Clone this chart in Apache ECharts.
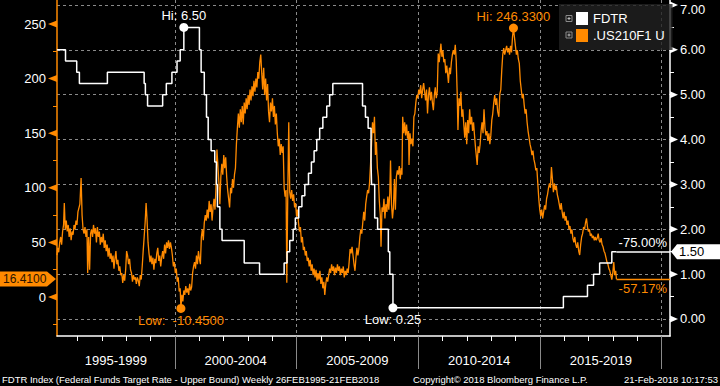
<!DOCTYPE html>
<html><head><meta charset="utf-8">
<script src="https://cdn.jsdelivr.net/npm/echarts@6/dist/echarts.min.js"></script>
<style>html,body{margin:0;padding:0;background:#000;}#c{width:720px;height:386px;}</style>
</head><body><div id="c"></div>
<script>
// ---------- axes / labels ----------
const X_MIN = 1995.16, X_MAX = 2020.34;
const periodLabels = ['1995-1999', '2000-2004', '2005-2009', '2010-2014', '2015-2019'];
const periodCenters = [1997.58, 2002.5, 2007.5, 2012.5, 2017.5];
const periodBounds = [2000, 2005, 2010, 2015, 2020];
const yearTicks = [1996,1997,1998,1999,2001,2002,2003,2004,2006,2007,2008,2009,2011,2012,2013,2014,2016,2017,2018,2019];
const leftTicks = [0, 50, 100, 150, 200, 250];
const leftMinorTicks = [-25, 0, 25, 50, 75, 100, 125, 150, 175, 200, 225, 250];
const rightTicks = [0, 1, 2, 3, 4, 5, 6, 7];
const rightMinorTicks = [0.5, 1.5, 2.5, 3.5, 4.5, 5.5, 6.5];
const LEFT_MIN = -35.7, LEFT_MAX = 272;
const RIGHT_MIN = -0.379, RIGHT_MAX = 7.111;

// ---------- FDTR (Fed funds target upper bound), [year, %] at change dates ----------
const fdtrSteps = [
 [1995.16,6.00],[1995.51,5.75],[1995.97,5.50],[1996.08,5.25],[1997.23,5.50],[1998.74,5.25],[1998.79,5.00],
 [1998.88,4.75],[1999.50,5.00],[1999.65,5.25],[1999.88,5.50],[2000.09,5.75],[2000.22,6.00],[2000.37,6.50],
 [2001.01,6.00],[2001.08,5.50],[2001.21,5.00],[2001.30,4.50],[2001.37,4.00],[2001.49,3.75],[2001.64,3.50],
 [2001.71,3.00],[2001.75,2.50],[2001.85,2.00],[2001.94,1.75],[2002.85,1.25],[2003.48,1.00],[2004.49,1.25],
 [2004.61,1.50],[2004.72,1.75],[2004.86,2.00],[2004.95,2.25],[2005.09,2.50],[2005.22,2.75],[2005.34,3.00],
 [2005.49,3.25],[2005.61,3.50],[2005.72,3.75],[2005.83,4.00],[2005.95,4.25],[2006.08,4.50],[2006.24,4.75],
 [2006.36,5.00],[2006.49,5.25],[2007.71,4.75],[2007.83,4.50],[2007.94,4.25],[2008.06,3.50],[2008.08,3.00],
 [2008.21,2.25],[2008.33,2.00],[2008.77,1.50],[2008.83,1.00],[2008.96,0.25],[2015.96,0.50],[2016.95,0.75],
 [2017.20,1.00],[2017.45,1.25],[2017.95,1.50],[2018.14,1.50]
];

// ---------- .US210F1 U spread (bp), [year, value] ----------
const spread1995 = [
 [1995.16,38.31],[1995.19,45],[1995.23,41],[1995.27,50],[1995.31,55],[1995.35,48],[1995.39,60],[1995.43,66],[1995.46,86],
 [1995.50,62],[1995.54,70],[1995.58,60],[1995.62,66],[1995.66,55],[1995.70,63],[1995.74,52],[1995.78,60],[1995.82,57],
 [1995.86,66],[1995.90,62],[1995.94,70],[1995.98,66],[1996.02,78],[1996.10,85],[1996.15,109],[1996.19,75],[1996.23,62],
 [1996.27,58],[1996.31,64],[1996.35,55],[1996.39,62],[1996.42,22],[1996.46,55],[1996.50,25],[1996.54,58],[1996.58,62],
 [1996.62,55],[1996.66,66],[1996.70,58],[1996.74,63],[1996.78,50],[1996.82,64],[1996.86,55],[1996.90,60],[1996.94,48],
 [1996.98,55],[1997.02,50],[1997.06,58],[1997.10,45],[1997.14,52],[1997.18,42],[1997.22,48],[1997.26,37],[1997.30,45],
 [1997.34,35],[1997.38,40],[1997.42,32],[1997.46,38],[1997.50,26],[1997.54,35],[1997.58,42],[1997.62,30],[1997.66,34],
 [1997.70,24],[1997.74,28],[1997.78,20],[1997.82,22],[1997.86,13],[1997.90,20],[1997.94,15],[1997.98,25],[1998.02,42],
 [1998.06,38],[1998.10,30],[1998.14,35],[1998.18,25],[1998.22,22],[1998.26,14],[1998.30,20],[1998.34,16],[1998.38,18],
 [1998.42,12],[1998.46,18],[1998.50,15],[1998.54,10],[1998.58,20],[1998.62,16],[1998.66,28],[1998.70,42],[1998.74,55],
 [1998.78,68],[1998.82,86],[1998.86,70],[1998.90,50],[1998.94,40],[1998.98,32],[1999.02,38],[1999.06,30],[1999.10,36],
 [1999.14,25],[1999.18,35],[1999.22,31],[1999.26,40],[1999.30,45],[1999.34,33],[1999.38,38],[1999.42,28],[1999.46,36],
 [1999.50,42],[1999.54,35],[1999.58,48],[1999.62,40],[1999.66,50],[1999.70,45],[1999.74,52],[1999.78,44]
];
const spread2000 = [
 [1999.82,50],[1999.86,45],[1999.90,38],[1999.94,28],[1999.98,32],[2000.02,22],[2000.06,26],[2000.10,14],[2000.14,18],
 [2000.18,5],[2000.22,8],[2000.25,-10.45],[2000.29,2],[2000.33,-4],[2000.37,6],[2000.41,2],[2000.45,10],[2000.49,4],
 [2000.53,8],[2000.57,2],[2000.61,12],[2000.65,6],[2000.69,9],[2000.73,22],[2000.77,28],[2000.81,32],[2000.85,26],
 [2000.89,38],[2000.93,30],[2000.97,42],[2001.01,35],[2001.05,30],[2001.09,55],[2001.13,62],[2001.17,52],[2001.21,68],
 [2001.25,75],[2001.29,70],[2001.33,80],[2001.37,72],[2001.41,88],[2001.45,78],[2001.49,85],[2001.53,70],[2001.57,82],
 [2001.61,90],[2001.65,80],[2001.69,100],[2001.73,135],[2001.77,120],[2001.81,105],[2001.85,85],[2001.89,110],
 [2001.93,122],[2001.97,112],[2002.01,130],[2002.05,118],[2002.09,128],[2002.13,110],[2002.17,98],[2002.21,90],
 [2002.25,82],[2002.29,100],[2002.33,95],[2002.37,108],[2002.41,100],[2002.45,112],[2002.49,118],[2002.53,140],
 [2002.57,155],[2002.61,168],[2002.65,155],[2002.69,172],[2002.73,160],[2002.77,175],[2002.81,158],[2002.85,178],
 [2002.89,168],[2002.93,182],[2002.97,172],[2003.01,185],[2003.05,176],[2003.09,190],[2003.13,180],[2003.17,193],
 [2003.21,184],[2003.25,198],[2003.29,188],[2003.33,200],[2003.37,192],[2003.41,206],[2003.45,200],[2003.49,215],
 [2003.53,222],[2003.57,205],[2003.61,190],[2003.65,210],[2003.69,185],[2003.73,200],[2003.77,180],[2003.81,195],
 [2003.85,170],[2003.89,160],[2003.93,178],[2003.97,170],[2004.01,182],[2004.05,165],[2004.09,175],[2004.13,158],
 [2004.17,168],[2004.21,150],[2004.25,138],[2004.29,145],[2004.33,130],[2004.37,140],[2004.41,132]
];
const spread2005 = [
 [2004.45,138],[2004.49,100],[2004.53,92],[2004.57,98],[2004.60,13],[2004.64,95],[2004.68,160],[2004.72,96],[2004.76,90],
 [2004.80,98],[2004.84,88],[2004.88,94],[2004.92,82],[2004.96,86],[2005.00,74],[2005.04,80],[2005.08,68],[2005.12,60],
 [2005.16,64],[2005.20,50],[2005.24,55],[2005.28,43],[2005.32,46],[2005.36,38],[2005.40,42],[2005.44,33],[2005.48,36],
 [2005.52,28],[2005.56,34],[2005.60,24],[2005.64,30],[2005.68,20],[2005.72,26],[2005.76,18],[2005.80,25],[2005.84,15],
 [2005.88,22],[2005.92,16],[2005.96,24],[2006.00,12],[2006.04,18],[2006.08,8],[2006.12,14],[2006.16,2],[2006.20,12],
 [2006.24,18],[2006.28,14],[2006.32,20],[2006.36,26],[2006.40,22],[2006.44,30],[2006.48,24],[2006.52,28],[2006.56,20],
 [2006.60,27],[2006.64,22],[2006.68,30],[2006.72,24],[2006.76,28],[2006.80,20],[2006.84,26],[2006.88,22],[2006.92,28],
 [2006.96,18],[2007.00,24],[2007.04,20],[2007.08,26],[2007.12,22],[2007.16,32],[2007.20,44],[2007.24,40],[2007.28,46],
 [2007.32,38],[2007.36,30],[2007.40,24],[2007.44,36],[2007.48,45],[2007.52,38],[2007.56,44],[2007.60,55],[2007.64,62],
 [2007.68,58],[2007.72,68],[2007.76,78],[2007.80,70],[2007.84,85],[2007.88,92],[2007.92,98],[2007.96,95],[2008.00,105],
 [2008.04,122],[2008.08,140],[2008.12,160],[2008.16,150],[2008.20,165],[2008.24,130],[2008.28,142],[2008.32,118],
 [2008.36,110],[2008.40,88],[2008.44,75],[2008.47,46],[2008.51,82],[2008.55,78],[2008.59,90],[2008.63,72],[2008.67,85],
 [2008.71,78],[2008.75,92],[2008.79,80],[2008.83,95],[2008.86,125],[2008.90,85],[2008.94,72],[2008.98,82],[2009.02,108],
 [2009.06,80],[2009.10,110]
];
const spread2010 = [
 [2009.14,116],[2009.18,112],[2009.22,120],[2009.26,108],[2009.30,118],[2009.33,112],[2009.36,165],[2009.40,150],
 [2009.44,160],[2009.48,148],[2009.52,158],[2009.56,145],[2009.60,152],[2009.62,121],[2009.66,150],[2009.70,140],
 [2009.74,145],[2009.78,138],[2009.82,165],[2009.86,168],[2009.90,178],[2009.94,185],[2009.98,182],[2010.02,190],
 [2010.06,186],[2010.10,194],[2010.14,182],[2010.18,190],[2010.22,196],[2010.26,188],[2010.30,180],[2010.34,190],
 [2010.38,168],[2010.42,185],[2010.46,192],[2010.50,180],[2010.54,188],[2010.58,178],[2010.62,171],[2010.66,185],
 [2010.70,192],[2010.74,182],[2010.78,188],[2010.82,223],[2010.86,215],[2010.90,225],[2010.93,232],[2010.97,220],
 [2011.01,226],[2011.05,215],[2011.09,218],[2011.13,205],[2011.17,212],[2011.21,203],[2011.24,196],[2011.28,210],
 [2011.32,204],[2011.36,215],[2011.40,222],[2011.44,226],[2011.48,222],[2011.52,231],[2011.56,216],[2011.60,185],
 [2011.63,153],[2011.67,182],[2011.71,175],[2011.75,188],[2011.79,165],[2011.83,172],[2011.87,158],[2011.91,146],
 [2011.95,160],[2011.99,140],[2012.03,162],[2012.07,150],[2012.11,172],[2012.15,158],[2012.19,165],[2012.23,152],
 [2012.27,160],[2012.31,148],[2012.35,137],[2012.39,128],[2012.42,121],[2012.46,138],[2012.50,132],[2012.54,140],
 [2012.58,152],[2012.62,160],[2012.66,150],[2012.70,172],[2012.74,155],[2012.78,148],[2012.82,152],[2012.86,143],
 [2012.90,150],[2012.94,140],[2012.98,148],[2013.02,162],[2013.06,168],[2013.10,178],[2013.14,185],[2013.18,176],
 [2013.22,182],[2013.26,170],[2013.31,165],[2013.35,186],[2013.39,190],[2013.43,208],[2013.47,222],[2013.51,228],
 [2013.55,222],[2013.59,226],[2013.63,230],[2013.67,224],[2013.71,228],[2013.75,222]
];
const spread2015 = [
 [2013.79,230],[2013.83,224],[2013.87,238],[2013.91,246.33],[2013.95,238],[2013.99,230],[2014.03,222],[2014.07,226],
 [2014.11,218],[2014.15,214],[2014.19,198],[2014.23,190],[2014.27,182],[2014.31,186],[2014.35,176],[2014.39,168],
 [2014.43,172],[2014.47,160],[2014.51,152],[2014.55,146],[2014.59,140],[2014.63,136],[2014.67,130],[2014.71,134],
 [2014.75,126],[2014.79,122],[2014.83,116],[2014.87,118],[2014.91,104],[2014.95,90],[2014.99,80],[2015.03,74],
 [2015.07,80],[2015.11,72],[2015.15,78],[2015.19,84],[2015.23,80],[2015.27,90],[2015.31,94],[2015.35,100],[2015.39,104],
 [2015.43,100],[2015.47,119],[2015.51,108],[2015.55,96],[2015.59,104],[2015.63,98],[2015.67,102],[2015.71,94],
 [2015.75,90],[2015.79,85],[2015.83,80],[2015.87,86],[2015.91,78],[2015.95,72],[2015.99,78],[2016.03,70],[2016.07,74],
 [2016.11,66],[2016.15,70],[2016.19,62],[2016.23,65],[2016.27,58],[2016.31,62],[2016.35,54],[2016.39,50],[2016.43,55],
 [2016.47,48],[2016.51,45],[2016.55,50],[2016.59,42],[2016.63,38.5],[2016.67,48],[2016.71,55],[2016.75,58],[2016.79,64],
 [2016.83,62],[2016.87,68],[2016.91,72],[2016.95,64],[2016.99,60],[2017.03,62],[2017.07,56],[2017.11,58],[2017.15,54],
 [2017.19,56],[2017.23,52],[2017.27,55],[2017.31,52],[2017.35,54],[2017.39,58],[2017.43,52],[2017.47,50],[2017.51,54],
 [2017.55,48],[2017.59,46],[2017.63,42],[2017.67,40],[2017.71,36],[2017.75,32],[2017.79,30],[2017.83,26],[2017.87,24],
 [2017.91,20],[2017.95,16],[2017.99,22],[2018.03,32],[2018.07,20],[2018.11,24],[2018.14,16.41]
];
const spreadData = [].concat(spread1995, spread2000, spread2005, spread2010, spread2015);

const ORANGE = '#ff8a00', GRID = '#8a8a8a', FONT = '"Liberation Sans", Arial, sans-serif';
const fdtrFirst = fdtrSteps[0][1], fdtrLast = fdtrSteps[fdtrSteps.length - 1];
const sprFirst = spreadData[0][1], sprLast = spreadData[spreadData.length - 1];
const pct = (a, b) => ((b / a - 1) * 100).toFixed(2) + '%';
const gridRect = { left: 57, right: 50, top: 0, bottom: 50 };

// SVG renderer: everything is painted at once (no time-sliced canvas painting)
const chart = echarts.init(document.getElementById('c'), null, { renderer: 'svg' });
chart.setOption({
  animation: false,
  backgroundColor: '#000',
  textStyle: { fontFamily: FONT },
  grid: [Object.assign({}, gridRect), Object.assign({}, gridRect)],
  legend: {
    orient: 'vertical', left: 559, top: 4, itemWidth: 12, itemHeight: 13, itemGap: 4,
    padding: [8, 8, 8, 17], backgroundColor: 'rgba(34,34,34,0.8)',
    textStyle: { color: '#fff', fontSize: 13, fontFamily: FONT },
    data: [{ name: 'FDTR', icon: 'rect' }, { name: '.US210F1 U', icon: 'rect' }]
  },
  xAxis: [{
    gridIndex: 0, type: 'value', min: X_MIN, max: X_MAX, position: 'bottom',
    axisLine: { show: true, onZero: false, lineStyle: { color: '#fff', width: 1.5 } },
    axisTick: { show: true, customValues: periodBounds, length: 33, lineStyle: { color: GRID, width: 1 } },
    axisLabel: {
      customValues: periodCenters, color: '#fff', fontSize: 13, margin: 18,
      formatter: v => { const i = periodCenters.findIndex(c => Math.abs(c - v) < 0.01); return i >= 0 ? periodLabels[i] : ''; }
    },
    splitLine: { show: true, lineStyle: { color: GRID, type: [3, 3], width: 1 } }
  }, {
    gridIndex: 1, type: 'value', min: X_MIN, max: X_MAX, position: 'bottom',
    axisLine: { show: false, onZero: false },
    axisTick: { show: true, customValues: yearTicks, length: 5, lineStyle: { color: '#fff', width: 1 } },
    axisLabel: { show: false }, splitLine: { show: false }
  }],
  yAxis: [{
    gridIndex: 0, type: 'value', position: 'right', min: RIGHT_MIN, max: RIGHT_MAX,
    axisLine: { show: true, onZero: false, lineStyle: { color: '#fff', width: 1.5 } },
    axisTick: { show: true, customValues: rightTicks, length: 4, lineStyle: { color: '#fff' } },
    axisLabel: {
      customValues: rightTicks, color: '#fff', fontSize: 13, margin: 10,
      formatter: v => v === 7 ? '{t|' + v.toFixed(2) + '}' : v.toFixed(2),
      rich: { t: { color: '#fff', fontSize: 13, padding: [10, 0, 0, 0] } }
    },
    splitLine: { show: true, lineStyle: { color: GRID, type: [3, 3], width: 1 } }
  }, {
    gridIndex: 0, type: 'value', position: 'left', min: LEFT_MIN, max: LEFT_MAX,
    axisLine: { show: true, onZero: false, lineStyle: { color: ORANGE, width: 1.5 } },
    axisTick: { show: true, customValues: leftMinorTicks, length: 4, lineStyle: { color: ORANGE } },
    axisLabel: { customValues: leftTicks, color: '#fff', fontSize: 13, margin: 11 },
    splitLine: { show: false }
  }, {
    gridIndex: 1, type: 'value', position: 'right', min: RIGHT_MIN, max: RIGHT_MAX,
    axisLine: { show: false, onZero: false },
    axisTick: { show: true, customValues: rightMinorTicks, length: 4, lineStyle: { color: '#fff' } },
    axisLabel: { show: false }, splitLine: { show: false }
  }],
  series: [{
    name: '.US210F1 U', type: 'line', xAxisIndex: 0, yAxisIndex: 1, data: spreadData,
    showSymbol: false, z: 2, color: ORANGE,
    lineStyle: { color: ORANGE, width: 1.3 }, itemStyle: { color: ORANGE },
    markPoint: {
      symbol: 'circle', symbolSize: 9, itemStyle: { color: ORANGE }, silent: true,
      label: { color: ORANGE, fontSize: 13, fontFamily: FONT },
      data: [
        { type: 'max', valueDim: 'y', name: 'Hi', label: { position: 'top', distance: 1, formatter: p => 'Hi: ' + Number(p.value).toFixed(4) } },
        { type: 'min', valueDim: 'y', name: 'Low', label: { position: 'bottom', distance: 1, formatter: p => 'Low:  ' + Number(p.value).toFixed(4) } }
      ]
    },
    markLine: {
      silent: true, symbol: ['none', 'none'],
      lineStyle: { color: ORANGE, type: 'solid', width: 1.3 },
      label: { show: true, position: 'insideEndBottom', color: ORANGE, fontSize: 13, fontFamily: FONT, distance: 3, formatter: pct(sprFirst, sprLast[1]) },
      data: [[{ coord: [sprLast[0], sprLast[1]] }, { coord: [X_MAX, sprLast[1]] }]]
    }
  }, {
    name: 'FDTR', type: 'line', xAxisIndex: 0, yAxisIndex: 0, data: fdtrSteps, step: 'end',
    showSymbol: false, z: 3, color: '#fff',
    lineStyle: { color: '#fff', width: 1.5 }, itemStyle: { color: '#fff' },
    markPoint: {
      symbol: 'circle', symbolSize: 9, itemStyle: { color: '#fff' }, silent: true,
      label: { color: '#fff', fontSize: 13, fontFamily: FONT },
      data: [
        { type: 'max', valueDim: 'y', name: 'Hi', label: { position: 'top', distance: 1, formatter: p => 'Hi: ' + Number(p.value).toFixed(2) } },
        { type: 'min', valueDim: 'y', name: 'Low', label: { position: 'bottom', distance: 1, formatter: p => 'Low: ' + Number(p.value).toFixed(2) } }
      ]
    },
    markLine: {
      silent: true, symbol: ['none', 'none'],
      lineStyle: { color: '#fff', type: 'solid', width: 1.5 },
      label: { show: true, position: 'insideEndTop', color: '#fff', fontSize: 13, fontFamily: FONT, distance: 3, formatter: pct(fdtrFirst, fdtrLast[1]) },
      data: [[{ coord: [fdtrLast[0], fdtrLast[1]] }, { coord: [X_MAX, fdtrLast[1]] }]]
    }
  }, {
    // empty series so the tick-only second grid is laid out
    type: 'line', xAxisIndex: 1, yAxisIndex: 2, data: []
  }]
});

// ---------- decorations placed through the chart's own scales ----------
const L = chart.convertToPixel({ xAxisIndex: 0 }, X_MIN);
const R = chart.convertToPixel({ xAxisIndex: 0 }, X_MAX);
const g = [];
leftTicks.forEach(v => {
  const y = chart.convertToPixel({ yAxisIndex: 1 }, v);
  g.push({ type: 'polygon', shape: { points: [[L, y - 3.5], [L, y + 3.5], [L - 9, y]] }, style: { fill: ORANGE } });
});
rightTicks.forEach(v => {
  const y = chart.convertToPixel({ yAxisIndex: 0 }, v);
  g.push({ type: 'polygon', shape: { points: [[R, y - 3.5], [R, y + 3.5], [R + 8, y]] }, style: { fill: '#fff' } });
});
// last-value tags
const ys = chart.convertToPixel({ yAxisIndex: 1 }, sprLast[1]);
g.push({ type: 'polygon', shape: { points: [[0, ys - 7.5], [47, ys - 7.5], [L - 1, ys], [47, ys + 7.5], [0, ys + 7.5]] }, style: { fill: ORANGE } });
g.push({ type: 'text', x: 3, y: ys, style: { text: sprLast[1].toFixed(4), fill: '#2a1400', font: '12px ' + FONT, verticalAlign: 'middle' } });
const yf = chart.convertToPixel({ yAxisIndex: 0 }, fdtrLast[1]);
g.push({ type: 'polygon', shape: { points: [[R + 1, yf], [R + 7, yf - 7.5], [720, yf - 7.5], [720, yf + 7.5], [R + 7, yf + 7.5]] }, style: { fill: '#fff' } });
g.push({ type: 'text', x: R + 9, y: yf, style: { text: fdtrLast[1].toFixed(2), fill: '#000', font: '13px ' + FONT, verticalAlign: 'middle' } });
// legend expand icons
[18.5, 35].forEach(cy => {
  g.push({ type: 'rect', z: 10, shape: { x: 566, y: cy - 3, width: 6, height: 6 }, style: { fill: 'none', stroke: '#8a8a8a', lineWidth: 1 } });
  g.push({ type: 'line', z: 10, shape: { x1: 567.5, y1: cy, x2: 570.5, y2: cy }, style: { stroke: '#bbb', lineWidth: 1 } });
  g.push({ type: 'line', z: 10, shape: { x1: 569, y1: cy - 1.5, x2: 569, y2: cy + 1.5 }, style: { stroke: '#bbb', lineWidth: 1 } });
});
// footer
const FOOT = '9.5px ' + FONT;
g.push({ type: 'text', x: 2, y: 379, style: { text: 'FDTR Index (Federal Funds Target Rate - Upper Bound) Weekly 26FEB1995-21FEB2018', fill: '#fff', font: FOOT, verticalAlign: 'middle' } });
g.push({ type: 'text', x: 413, y: 379, style: { text: 'Copyright\u00a9 2018 Bloomberg Finance L.P.', fill: '#fff', font: FOOT, verticalAlign: 'middle' } });
g.push({ type: 'text', x: 718, y: 379, style: { text: '21-Feb-2018 10:17:53', fill: '#fff', font: FOOT, verticalAlign: 'middle', align: 'right' } });
chart.setOption({ graphic: g });
</script></body></html>
